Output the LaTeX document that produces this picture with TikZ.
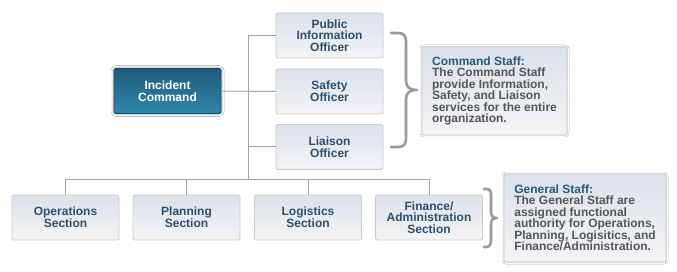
\documentclass[tikz,border=0pt]{standalone}
\usepackage{fontspec}
\setmainfont{Liberation Sans}
\usetikzlibrary{shadows.blur}
\definecolor{boxtext}{HTML}{2E4F6E}
\definecolor{boxtop}{HTML}{DCE2EB}
\definecolor{boxbot}{HTML}{F3F4F5}
\definecolor{boxborder}{HTML}{C8CACD}
\definecolor{ictop}{HTML}{1B5C7D}
\definecolor{icbot}{HTML}{3186A8}
\definecolor{connline}{HTML}{A3A3A3}
\definecolor{bracecol}{HTML}{9A9A9A}
\definecolor{titleblue}{HTML}{29587A}
\definecolor{bodygray}{HTML}{53575B}
\begin{document}
\begin{tikzpicture}[x=1pt,y=-1pt,
  orgbox/.style={draw=boxborder, line width=0.8pt, rounded corners=1.5pt, top color=boxtop, bottom color=boxbot,
    minimum width=107pt, minimum height=45pt, inner sep=0pt, align=center,
    font=\bfseries\fontsize{12}{11.7}\selectfont, text=boxtext},
  icbox/.style={orgbox, draw=ictop!80!black, top color=ictop, bottom color=icbot, text=white,
    blur shadow={shadow xshift=0pt, shadow yshift=0pt, shadow blur radius=3pt, shadow opacity=45}},
  infobox/.style={draw=boxborder, line width=0.8pt, rounded corners=2pt, top color=boxtop, bottom color=boxbot,
    inner sep=0pt, align=left, font=\bfseries\fontsize{12}{11.5}\selectfont, text=bodygray,
    blur shadow={shadow xshift=0pt, shadow yshift=0pt, shadow blur radius=2pt, shadow opacity=25}},
  conn/.style={draw=connline, line width=1pt},
  bracepath/.style={draw=bracecol, line width=2.6pt, line cap=round, line join=round}
]
\useasboundingbox (0,0) rectangle (677,272);
\fill[white] (0,0) rectangle (677,272);

\coordinate (j) at (248,180);

\node[icbox] (ic) at (167.5,91) {Incident\\Command};
\node[orgbox] (pio) at (329.5,35.5) {Public\\Information\\Officer};
\node[orgbox] (safety) at (329.5,91.5) {Safety\\Officer};
\node[orgbox] (liaison) at (329.5,147) {Liaison\\Officer};

\node[orgbox] (ops) at (65.5,217.5) {Operations\\Section};
\node[orgbox] (plan) at (186.5,217.5) {Planning\\Section};
\node[orgbox] (log) at (308,217.5) {Logistics\\Section};
\node[orgbox] (fin) at (429,217.5) {Finance/\\Administration\\Section};

\draw[conn] (ic.east) -- (safety.west);
\draw[conn] (pio.west) -| (j);
\draw[conn] (liaison.west) -- (liaison.west -| j);
\draw[conn] (ops.north) |- (j);
\draw[conn] (plan.north) |- (j);
\draw[conn] (log.north) |- (j);
\draw[conn] (fin.north) |- (j);

% braces
\draw[bracepath] (391,33) -- (398,33) .. controls (404,33) and (406,36) .. (406,42) -- (406,80)
  .. controls (406,87) and (409,90) .. (417,90) .. controls (409,90) and (406,93) .. (406,100)
  -- (406,138) .. controls (406,144) and (404,147) .. (398,147) -- (391,147);
\draw[bracepath] (484,189) -- (486,189) .. controls (490,189) and (491,191) .. (491,195) -- (491,212)
  .. controls (491,216) and (493,218) .. (497,218) .. controls (493,218) and (491,220) .. (491,224)
  -- (491,240) .. controls (491,244) and (490,247) .. (486,247) -- (484,247);

% info boxes
\node[infobox, minimum width=145pt, minimum height=88pt] (cs) at (494.5,91)
  {{\color{titleblue}Command Staff:}\\The Command Staff\\provide Information,\\Safety, and Liaison\\services for the entire\\organization.};
\node[infobox, minimum width=162pt, minimum height=88pt] (gs) at (585,218)
  {{\color{titleblue}General Staff:}\\The General Staff are\\assigned functional\\authority for Operations,\\Planning, Logisitics, and\\Finance/Administration.};
\end{tikzpicture}
\end{document}
